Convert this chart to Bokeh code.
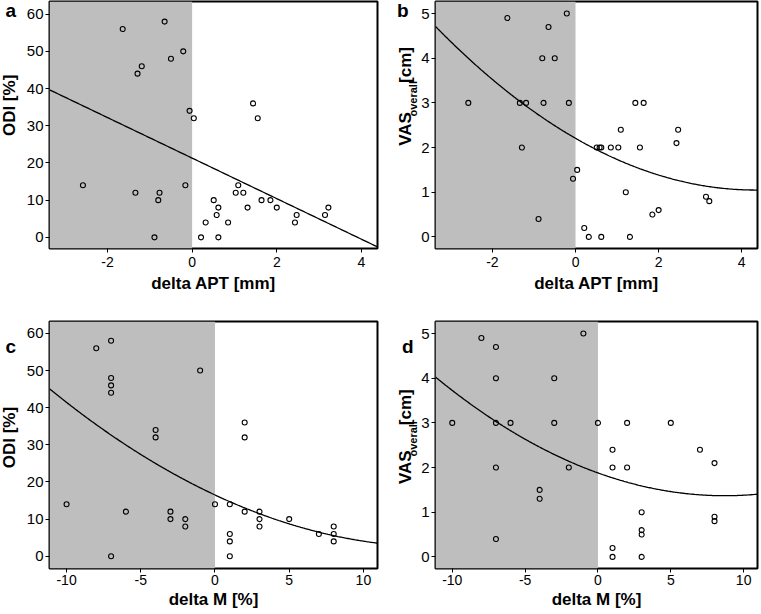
import numpy as np
from bokeh.plotting import figure
from bokeh.layouts import gridplot
from bokeh.models import Label, BoxAnnotation, Range1d, FixedTicker
from bokeh.embed import file_html
from bokeh.resources import INLINE

# ---------------- data ----------------
# delta APT [mm] (shared by panels a and b)
delta_apt = [-2.58, -1.64, -1.34, -1.29, -1.19, -0.89, -0.80, -0.77, -0.65, -0.50,
             -0.21, -0.16, -0.06, 0.04, 0.21, 0.32, 0.51, 0.58, 0.62, 0.62,
             0.85, 1.03, 1.09, 1.21, 1.31, 1.44, 1.55, 1.64, 1.85, 2.00,
             2.43, 2.47, 3.14, 3.22]
odi_a = [14, 56, 12, 44, 46, 0, 10, 12, 58, 48,
         50, 14, 34, 32, 0, 4, 10, 6, 8, 0,
         4, 12, 14, 12, 8, 36, 32, 10, 10, 8,
         4, 6, 6, 8]
vas_b = [3.0, 4.9, 3.0, 2.0, 3.0, 0.4, 4.0, 3.0, 4.7, 4.0,
         5.0, 3.0, 1.3, 1.5, 0.2, 0.0, 2.0, 2.0, 2.0, 0.0,
         2.0, 2.0, 2.4, 1.0, 0.0, 3.0, 2.0, 3.0, 0.5, 0.6,
         2.1, 2.4, 0.9, 0.8]

# delta M [%] vs ODI (panel c)
delta_m_c = [-10, -8, -7, -7, -7, -7, -7, -6, -4, -4, -3, -3, -2, -2, -1, 0,
             1, 1, 1, 1, 2, 2, 2, 3, 3, 3, 5, 7, 8, 8, 8]
odi_c = [14, 56, 58, 48, 46, 44, 0, 12, 34, 32, 12, 10, 10, 8, 50, 14,
         14, 6, 4, 0, 36, 32, 12, 12, 10, 8, 10, 6, 8, 6, 4]

# delta M [%] vs VAS (panel d)
delta_m_d = [-10, -8, -7, -7, -7, -7, -7, -6, -4, -4, -3, -3, -2, -1, 0,
             1, 1, 1, 1, 2, 2, 3, 3, 3, 3, 5, 7, 8, 8, 8]
vas_d = [3.0, 4.9, 4.7, 4.0, 3.0, 2.0, 0.4, 3.0, 1.5, 1.3, 4.0, 3.0, 2.0, 5.0, 3.0,
         2.4, 2.0, 0.2, 0.0, 3.0, 2.0, 1.0, 0.6, 0.5, 0.0, 3.0, 2.4, 2.1, 0.9, 0.8]

# regression fits (coefficients c0 + c1*x + c2*x^2)
fit_a = [21.3, -5.45, 0.0]
fit_b = [2.207, -0.535, 0.0618]
fit_c = [16.5, -1.868, 0.0624]
fit_d = [1.88, -0.1173, 0.00674]

# axes
xr_apt = (-3.37, 4.38)
xr_m = (-11.15, 10.95)
yr_odi_top = (-3.0, 63.4)
yr_odi_bot = (-3.3, 63.2)
yr_vas = (-0.26, 5.27)
xticks_apt = [-2, 0, 2, 4]
xticks_m = [-10, -5, 0, 5, 10]
yticks_odi = [0, 10, 20, 30, 40, 50, 60]
yticks_vas = [0, 1, 2, 3, 4, 5]

FONT = "Liberation Sans"
SHIFT = 0.36     # Label baseline sits this many em below its anchor
FH = 247         # frame height
BR = 3
ROW_TOP = dict(height=296, bt=1, bb=48, std=4)
ROW_BOT = dict(height=316, bt=25, bb=44, std=2)


def main_panel(x, y, fit, xr, yr, xt, yt, xlabel, width, bl, row):
    p = figure(width=width, height=row["height"], output_backend="svg",
               toolbar_location=None, tools="",
               x_range=Range1d(*xr), y_range=Range1d(*yr),
               min_border_left=bl, min_border_right=BR,
               min_border_top=row["bt"], min_border_bottom=row["bb"])
    p.background_fill_color = "white"
    p.border_fill_color = "white"
    p.outline_line_color = "black"
    p.outline_line_width = 2
    p.xgrid.visible = False
    p.ygrid.visible = False

    p.add_layout(BoxAnnotation(right=0, fill_color="#bebebe", fill_alpha=1,
                               line_alpha=0, level="underlay"))

    xs = np.linspace(xr[0], xr[1], 300)
    ys = fit[0] + fit[1] * xs + fit[2] * xs ** 2
    p.line(xs, ys, line_color="black", line_width=1.3)
    p.scatter(x, y, marker="circle", size=5, fill_color=None,
              line_color="black", line_width=1.1)

    for ax, ticks, fs in ((p.xaxis[0], xt, "14px"), (p.yaxis[0], yt, "15px")):
        ax.ticker = FixedTicker(ticks=ticks)
        ax.major_label_overrides = {t: str(t) for t in ticks}
        ax.axis_line_color = None
        ax.major_tick_in = 0
        ax.major_tick_out = 4
        ax.major_tick_line_color = "black"
        ax.major_tick_line_width = 1
        ax.minor_tick_line_color = None
        ax.major_label_text_font = FONT
        ax.major_label_text_font_size = fs
        ax.major_label_text_color = "black"
    p.yaxis.major_label_standoff = 2
    p.xaxis.major_label_standoff = row["std"]
    p.xaxis.axis_label = xlabel
    p.xaxis.axis_label_standoff = row["std"]
    p.xaxis.axis_label_text_font = FONT
    p.xaxis.axis_label_text_font_size = "17px"
    p.xaxis.axis_label_text_font_style = "bold"
    p.xaxis.axis_label_text_color = "black"
    return p


def side_panel(width, row, letter, letter_x, letter_base, vas, label_base,
               vas_start=0):
    """Narrow strip left of a panel carrying its letter and its y title."""
    H = row["height"]
    s = figure(width=width, height=H, output_backend="svg",
               toolbar_location=None, tools="",
               x_range=Range1d(0, width), y_range=Range1d(0, H),
               min_border=0, x_axis_location=None, y_axis_location=None)
    s.outline_line_color = None
    s.background_fill_color = "white"
    s.border_fill_color = "white"
    s.xgrid.visible = False
    s.ygrid.visible = False
    # letter: baseline letter_base px below the frame top
    s.add_layout(Label(text=letter, x=letter_x,
                       y=H - row["bt"] - letter_base + SHIFT * 19,
                       text_font=FONT, text_font_style="bold",
                       text_font_size="19px", text_color="black",
                       text_align="left", text_baseline="alphabetic"))
    rot = dict(angle=np.pi / 2, text_font=FONT, text_font_style="bold",
               text_color="black", text_baseline="alphabetic")
    fb = row["bb"]  # frame bottom, from the strip's bottom
    if not vas:
        s.add_layout(Label(text="ODI [%]", x=label_base - SHIFT * 17,
                           y=fb + FH / 2, text_font_size="17px",
                           text_align="center", **rot))
    else:
        y0 = fb + vas_start
        y1 = y0 + 35.2
        y2 = y1 + 35.5 + 4.7
        s.add_layout(Label(text="VAS", x=label_base - SHIFT * 17, y=y0,
                           text_font_size="17px", text_align="left", **rot))
        s.add_layout(Label(text="overall", x=label_base + 4.5 - SHIFT * 11, y=y1,
                           text_font_size="11px", text_align="left", **rot))
        s.add_layout(Label(text="[cm]", x=label_base - SHIFT * 17, y=y2,
                           text_font_size="17px", text_align="left", **rot))
    return s


W_SA, W_PA, W_SB, W_PB = 22, 358, 38, 342
BL_A, BL_B = 27, 17

sa = side_panel(W_SA, ROW_TOP, "a", 5, 16.5, False, 15)
pa = main_panel(delta_apt, odi_a, fit_a, xr_apt, yr_odi_top, xticks_apt, yticks_odi,
                "delta APT [mm]", W_PA, BL_A, ROW_TOP)
sb = side_panel(W_SB, ROW_TOP, "b", 16.5, 16.5, True, 31.5, vas_start=75)
pb = main_panel(delta_apt, vas_b, fit_b, xr_apt, yr_vas, xticks_apt, yticks_vas,
                "delta APT [mm]", W_PB, BL_B, ROW_TOP)
sc = side_panel(W_SA, ROW_BOT, "c", 5, 14, False, 15.5)
pc = main_panel(delta_m_c, odi_c, fit_c, xr_m, yr_odi_bot, xticks_m, yticks_odi,
                "delta M [%]", W_PA, BL_A, ROW_BOT)
sd = side_panel(W_SB, ROW_BOT, "d", 21.5, 13.5, True, 31.5, vas_start=64)
pd = main_panel(delta_m_d, vas_d, fit_d, xr_m, yr_vas, xticks_m, yticks_vas,
                "delta M [%]", W_PB, BL_B, ROW_BOT)

grid = gridplot([[sa, pa, sb, pb], [sc, pc, sd, pd]], toolbar_location=None)

open("out.html", "w").write(file_html(grid, INLINE))
